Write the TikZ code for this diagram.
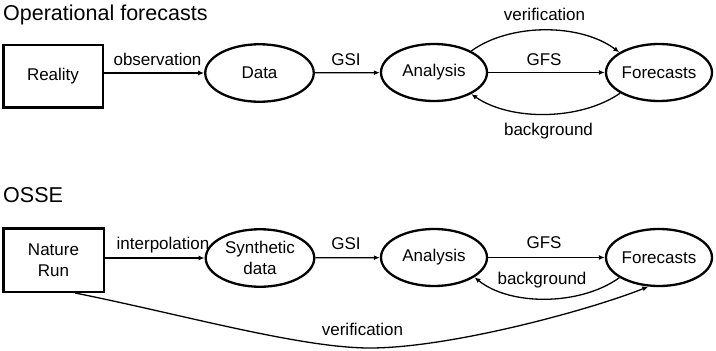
\documentclass[tikz,border=0pt]{standalone}
\usepackage{fontspec}
\setmainfont{Liberation Sans}
\usetikzlibrary{shapes.geometric,arrows.meta,calc}
\begin{document}
\begin{tikzpicture}[x=1pt,y=-1pt,
  lbl/.style={font=\fontsize{17}{20}\selectfont, inner sep=0pt, anchor=base},
  ttl/.style={font=\fontsize{21.5}{26}\selectfont, inner sep=0pt, anchor=base west},
  boxnode/.style={draw, rectangle, line width=2.5pt, font=\fontsize{17}{21}\selectfont, align=center, inner sep=0pt},
  oval/.style={draw, ellipse, line width=2.3pt, font=\fontsize{17}{21}\selectfont, align=center, inner sep=0pt, minimum width=106pt, minimum height=57pt},
  conn/.style={line width=1.3pt, -{Latex[length=6pt,width=5pt]}}]
\useasboundingbox (0,0) rectangle (716,351);

% titles
\node[ttl] (t1) at (3,20) {Operational forecasts};
\node[ttl] (t2) at (3,202) {OSSE};

% top row
\node[boxnode, minimum width=99.5pt, minimum height=62.5pt] (rl) at (53,76) {Reality};
\node[oval, minimum width=108.5pt, minimum height=57.5pt] (da) at (259.5,73) {Data};
\node[oval] (an) at (434,72.5) {Analysis};
\node[oval] (fc) at (659,72.5) {Forecasts};

\draw[conn] (rl.east |- da.center) -- (da.west);
\draw[conn] (da) -- (an);
\draw[conn] (an) -- (fc);
\draw[conn] (an.30) .. controls (510,23) and (580,23) .. (fc.153);
\draw[conn] (fc.208) .. controls (580,121) and (510,121) .. (an.-30);

\node[lbl] (l1) at (157.5,65) {observation};
\node[lbl] (l2) at (346,65) {GSI};
\node[lbl] (l3) at (544,65) {GFS};
\node[lbl] (l4) at (544.5,20) {verification};
\node[lbl] (l5) at (548.5,135) {background};

% bottom row
\node[boxnode, minimum width=100.5pt, minimum height=63.5pt] (nr) at (53.5,260) {Nature\\Run};
\node[oval, minimum width=108.5pt, minimum height=57.5pt] (sy) at (260,258) {Synthetic\\data};
\node[oval] (an2) at (434,257.5) {Analysis};
\node[oval] (fc2) at (659,257.5) {Forecasts};

\draw[conn] (nr.east |- sy.center) -- (sy.west);
\draw[conn] (sy) -- (an2);
\draw[conn] (an2) -- (fc2);
\draw[conn] (fc2.207) .. controls (580,306) and (510,306) .. (an2.-26);
\coordinate (vs) at ($(nr.south west)!0.71!(nr.south east)$);
\draw[conn] (vs) .. controls (180,314) and (300,348) .. (370,348)
  .. controls (450,348) and (590,310) .. (fc2.250);

\node[lbl] (m1) at (163,249) {interpolation};
\node[lbl] (m2) at (346,249) {GSI};
\node[lbl] (m3) at (544,248) {GFS};
\node[lbl] (m4) at (542,284) {background};
\node[lbl] (m5) at (362.5,335) {verification};
\end{tikzpicture}
\end{document}
